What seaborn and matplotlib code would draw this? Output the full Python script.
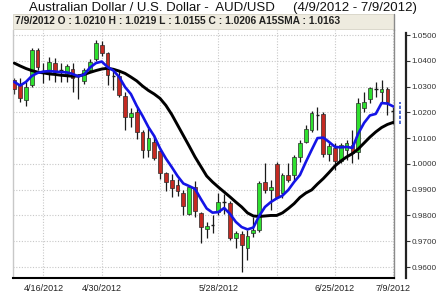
import matplotlib
matplotlib.use("Agg")
import matplotlib.pyplot as plt
import seaborn as sns
import numpy as np
import pandas as pd
from matplotlib.patches import Rectangle

# ---------------- data ----------------
dates = pd.bdate_range("2012-04-09", "2012-07-09")  # 66 trading days

opens = [1.0325, 1.0306, 1.0248, 1.0306, 1.0440, 1.0368, 1.0358, 1.0390, 1.0358, 1.0348,
         1.0368, 1.0340, 1.0320, 1.0366, 1.0405, 1.0462, 1.0430, 1.0345, 1.0340, 1.0265,
         1.0183, 1.0200, 1.0125, 1.0055, 1.0085, 1.0050, 0.9965, 0.9938, 0.9918, 0.9887,
         0.9805, 0.9912, 0.9810, 0.9747, 0.9757, 0.9815, 0.9848, 0.9847, 0.9712, 0.9730,
         0.9673, 0.9731, 0.9744, 0.9930, 0.9900, 1.0000, 0.9886, 0.9957, 0.9957, 1.0028,
         1.0086, 1.0132, 1.0193, 1.0195, 1.0040, 1.0060, 1.0012, 1.0055, 1.0075, 1.0045,
         1.0215, 1.0250, 1.0288, 1.0278, 1.0292, 1.0210]
highs = [1.0335, 1.0333, 1.0319, 1.0448, 1.0451, 1.0390, 1.0416, 1.0411, 1.0391, 1.0387,
         1.0390, 1.0350, 1.0372, 1.0405, 1.0482, 1.0478, 1.0435, 1.0360, 1.0364, 1.0280,
         1.0218, 1.0222, 1.0132, 1.0140, 1.0112, 1.0062, 0.9970, 0.9962, 0.9940, 0.9900,
         0.9915, 0.9932, 0.9815, 0.9776, 0.9800, 0.9886, 0.9885, 0.9855, 0.9738, 0.9738,
         0.9744, 0.9795, 0.9932, 1.0002, 0.9938, 1.0008, 0.9963, 1.0002, 1.0035, 1.0093,
         1.0151, 1.0207, 1.0222, 1.0203, 1.0080, 1.0080, 1.0082, 1.0093, 1.0131, 1.0255,
         1.0278, 1.0300, 1.0318, 1.0325, 1.0300, 1.0219]
lows = [1.0270, 1.0240, 1.0226, 1.0300, 1.0364, 1.0315, 1.0325, 1.0318, 1.0318, 1.0318,
        1.0278, 1.0250, 1.0310, 1.0358, 1.0400, 1.0420, 1.0305, 1.0288, 1.0261, 1.0132,
        1.0143, 1.0095, 1.0022, 1.0028, 1.0015, 0.9940, 0.9893, 0.9873, 0.9875, 0.9802,
        0.9800, 0.9795, 0.9692, 0.9711, 0.9731, 0.9802, 0.9805, 0.9705, 0.9673, 0.9582,
        0.9627, 0.9718, 0.9737, 0.9886, 0.9821, 0.9866, 0.9866, 0.9931, 0.9938, 1.0009,
        1.0080, 1.0125, 1.0131, 1.0028, 1.0010, 0.9976, 1.0005, 1.0015, 1.0002, 1.0020,
        1.0200, 1.0235, 1.0261, 1.0240, 1.0190, 1.0155]
closes = [1.0290, 1.0256, 1.0300, 1.0442, 1.0377, 1.0362, 1.0397, 1.0355, 1.0364, 1.0378,
          1.0333, 1.0344, 1.0364, 1.0396, 1.0470, 1.0432, 1.0345, 1.0340, 1.0268, 1.0180,
          1.0197, 1.0125, 1.0055, 1.0100, 1.0022, 0.9965, 0.9928, 0.9908, 0.9893, 0.9835,
          0.9912, 0.9816, 0.9757, 0.9759, 0.9762, 0.9853, 0.9852, 0.9712, 0.9731, 0.9686,
          0.9722, 0.9744, 0.9925, 0.9900, 0.9912, 0.9873, 0.9957, 0.9938, 1.0028, 1.0082,
          1.0134, 1.0196, 1.0188, 1.0040, 1.0070, 1.0010, 1.0075, 1.0080, 1.0042, 1.0238,
          1.0241, 1.0293, 1.0292, 1.0289, 1.0242, 1.0206]
sma_fast = [1.0318, 1.0304, 1.0318, 1.0341, 1.0353, 1.0358, 1.0360, 1.0358, 1.0356, 1.0355,
            1.0349, 1.0339, 1.0347, 1.0374, 1.0391, 1.0397, 1.0376, 1.0362, 1.0337, 1.0298,
            1.0271, 1.0225, 1.0186, 1.0143, 1.0108, 1.0060, 1.0021, 0.9988, 0.9953, 0.9924,
            0.9914, 0.9903, 0.9864, 0.9827, 0.9811, 0.9813, 0.9829, 0.9806, 0.9775, 0.9755,
            0.9746, 0.9753, 0.9798, 0.9833, 0.9852, 0.9866, 0.9877, 0.9899, 0.9930, 0.9957,
            1.0007, 1.0054, 1.0100, 1.0102, 1.0085, 1.0066, 1.0064, 1.0066, 1.0062, 1.0118,
            1.0159, 1.0188, 1.0194, 1.0236, 1.0234, 1.0223]
sma15 = [1.0391, 1.0380, 1.0370, 1.0362, 1.0356, 1.0353, 1.0349, 1.0347, 1.0344, 1.0342,
         1.0340, 1.0341, 1.0347, 1.0355, 1.0362, 1.0368, 1.0371, 1.0367, 1.0360, 1.0351,
         1.0337, 1.0322, 1.0302, 1.0285, 1.0271, 1.0254, 1.0227, 1.0192, 1.0151, 1.0110,
         1.0069, 1.0027, 0.9990, 0.9953, 0.9930, 0.9910, 0.9891, 0.9872, 0.9852, 0.9833,
         0.9810, 0.9798, 0.9796, 0.9798, 0.9800, 0.9800, 0.9810, 0.9827, 0.9846, 0.9870,
         0.9887, 0.9899, 0.9922, 0.9943, 0.9967, 0.9992, 1.0011, 1.0027, 1.0040, 1.0058,
         1.0081, 1.0104, 1.0124, 1.0141, 1.0153, 1.0161]

y_ticks = [0.96, 0.97, 0.98, 0.99, 1.00, 1.01, 1.02, 1.03, 1.04, 1.05]
x_tick_idx = [5, 15, 25, 35, 45, 55, 65]
x_tick_labels = ["4/16/2012", "4/30/2012", "", "5/28/2012", "", "6/25/2012", "7/9/2012"]
title = "Australian Dollar / U.S. Dollar -  AUD/USD     (4/9/2012 - 7/9/2012)"
header = "7/9/2012 O : 1.0210 H : 1.0219 L : 1.0155 C : 1.0206 A15SMA : 1.0163"

# ---------------- figure ----------------
sns.set_style("white")
plt.rcParams['font.family'] = ['Liberation Sans', 'DejaVu Sans']

W, H = 438, 294
fig = plt.figure(figsize=(W / 100, H / 100), dpi=100)
L_px, R_px, T_px, B_px = 13, 394, 30, 278
ax = fig.add_axes([L_px / W, 1 - B_px / H, (R_px - L_px) / W, (B_px - T_px) / H])

df = pd.DataFrame({"i": np.arange(len(dates)), "date": dates,
                   "open": opens, "high": highs, "low": lows, "close": closes,
                   "fast": sma_fast, "slow": sma15})

GREEN = "#2fe02f"
RED = "#c42a22"
for _, r in df.iterrows():
    ax.vlines(r.i, r.low, r.high, color="#1a1a1a", lw=0.9, zorder=2)
    diff = r.close - r.open
    if abs(diff) < 0.0008:
        ax.hlines(r.close, r.i - 0.3, r.i + 0.3, color="#1a1a1a", lw=1.0, zorder=3)
    else:
        ax.bar(r.i, diff, bottom=r.open, width=0.64,
               color=GREEN if diff > 0 else RED, edgecolor="#2a2a2a", linewidth=0.5, zorder=3)

sns.lineplot(data=df, x="i", y="slow", ax=ax, color="#000000", lw=2.1, zorder=4)
sns.lineplot(data=df, x="i", y="fast", ax=ax, color="#1414e6", lw=1.9, zorder=5)

ppu = 2578.0
ax.set_ylim(1.05 - (B_px - 35) / ppu, 1.05 + (35 - T_px) / ppu)
ax.set_xlim(-0.22, 65.13)
ax.set_yticks(y_ticks)
ax.set_yticklabels([])
ax.set_xticks(x_tick_idx)
ax.set_xticklabels(x_tick_labels, fontsize=6.5, color="#222222")
ax.tick_params(axis="both", length=0, pad=4.5)
ax.tick_params(axis="y", left=False, labelleft=False)
ax.set_xlabel("")
ax.set_ylabel("")
ax.grid(True, color="#c8c8c8", linestyle=(0, (1, 1.5)), lw=0.8)
ax.spines["top"].set_visible(False)
ax.spines["left"].set_color("#c8c8c8")
ax.spines["left"].set_linewidth(1.0)
ax.spines["right"].set_color("#8a8a8a")
ax.spines["right"].set_linewidth(1.0)
ax.spines["bottom"].set_color("#000000")
ax.spines["bottom"].set_linewidth(1.5)

# current SMA indicator (dashed blue mark right of the plot)
ax.vlines(len(dates) - 1 + 1.15, lows[-1], sma_fast[-1] + 0.0018, color="#3050d0",
          lw=1.2, linestyles=(0, (2, 1)), clip_on=False)

# right value axis
ax2 = fig.add_axes([401 / W, 1 - B_px / H, 5 / W, (B_px - 33) / H])
ax2.set_ylim(1.05 - (B_px - 35) / ppu, 1.05 + (35 - 33) / ppu)
ax2.set_xticks([])
ax2.yaxis.tick_right()
ax2.set_yticks(y_ticks)
ax2.set_yticklabels([f"{v:.4f}" for v in y_ticks], fontsize=5.9, color="#333333")
ax2.tick_params(axis="y", length=3, width=0.8, color="#333333", pad=1.2)
for s in ["top", "left", "bottom"]:
    ax2.spines[s].set_visible(False)
ax2.spines["right"].set_color("#222222")
ax2.spines["right"].set_linewidth(1.6)
ax2.patch.set_alpha(0)

# header bar
fig.patches.append(Rectangle((13 / W, 1 - 29 / H), (R_px - 13) / W, 15 / H,
                             transform=fig.transFigure, facecolor="#eeebdf",
                             edgecolor="#d6d3c6", lw=0.6, zorder=0))
fig.text(15 / W, 1 - 21.5 / H, header, fontsize=7.4, fontweight="bold",
         color="#222222", va="center", ha="left")
fig.lines.append(plt.Line2D([R_px / W, R_px / W], [1 - 14 / H, 1 - T_px / H],
                            transform=fig.transFigure, color="#8a8a8a", lw=1.0))

fig.text(222.5 / W, 1 - 8 / H, title, fontsize=9.5, color="#111111", ha="center", va="center")

fig.savefig("out.png", dpi=100)
